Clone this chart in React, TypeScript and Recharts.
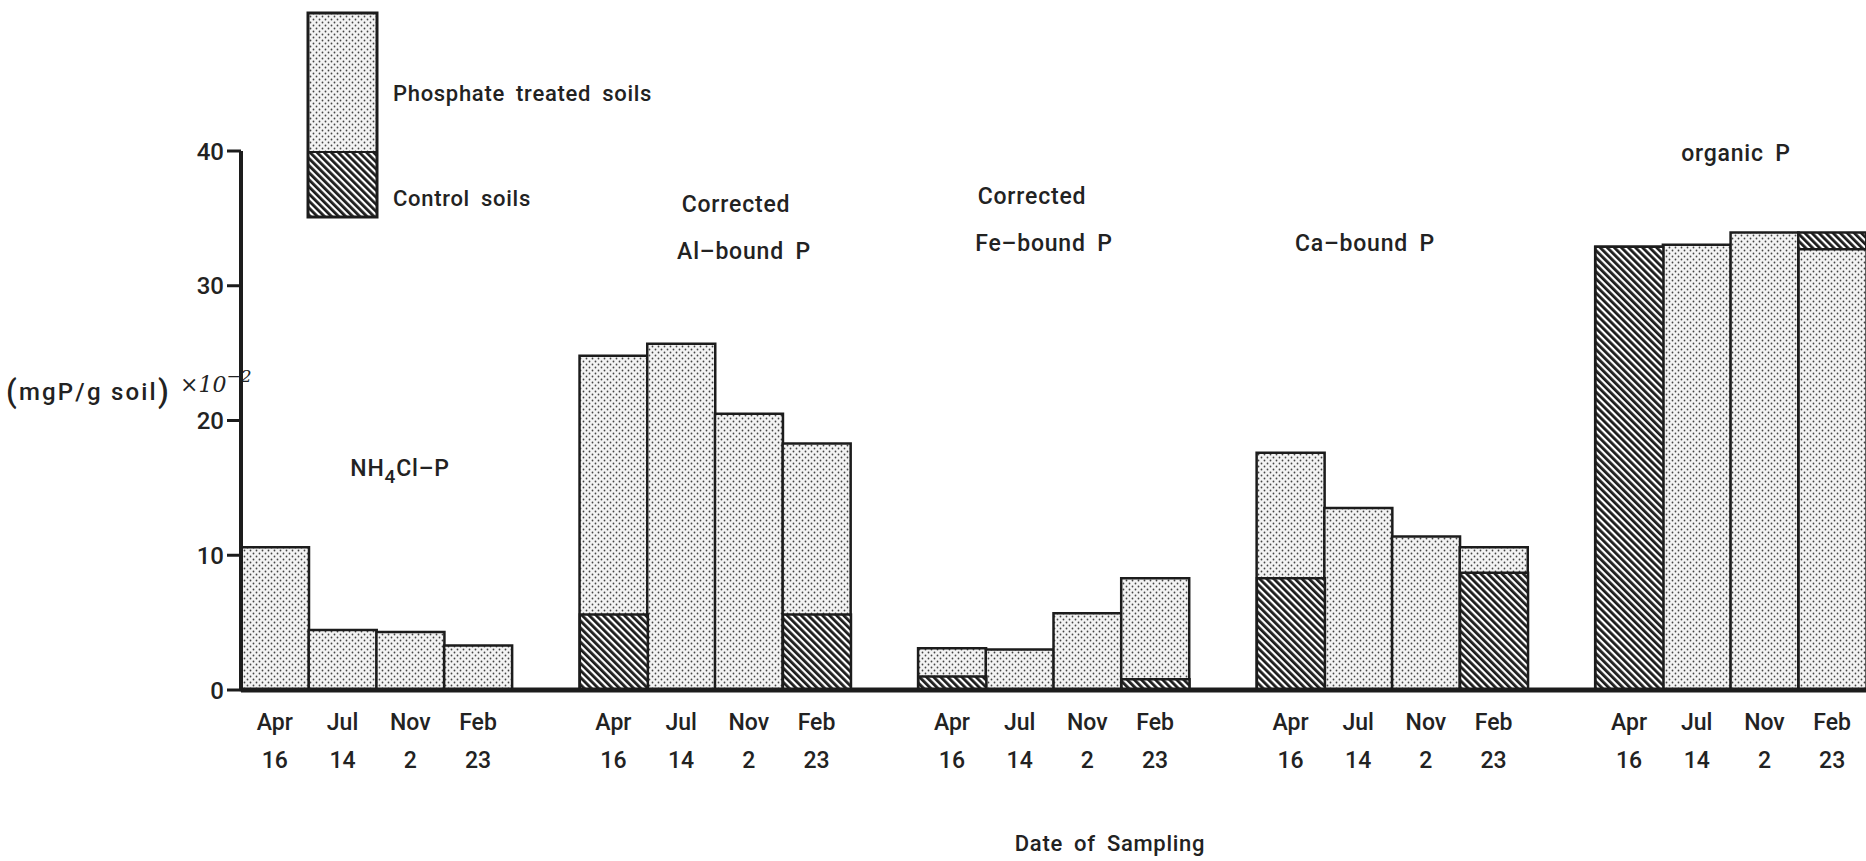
import React from 'react';
import { Bar, BarChart, Cell, XAxis, YAxis } from 'recharts';

// sampling dates (shared by every fraction)
const months = ['Apr', 'Jul', 'Nov', 'Feb'];
const days = ['16', '14', '2', '23'];

// phosphorus fractions, (mgP/g soil) x 10^-2
const fractions = ['NH4Cl-P', 'Al-bound P', 'Fe-bound P', 'Ca-bound P', 'organic P'];
const nh4clTreated = [10.6, 4.45, 4.3, 3.3];
const nh4clControl = [null, null, null, null];
const alTreated = [24.8, 25.7, 20.5, 18.3];
const alControl = [5.6, null, null, 5.6];
const feTreated = [3.1, 3.0, 5.7, 8.3];
const feControl = [1.0, null, null, 0.8];
const caTreated = [17.6, 13.5, 11.4, 10.6];
const caControl = [8.3, null, null, 8.7];
const organicTreated = [32.9, 33.05, 33.95, 32.7];
const organicControl = [32.9, null, null, 33.95];

const yTicks = [0, 10, 20, 30, 40];

const treatedByFraction = [nh4clTreated, alTreated, feTreated, caTreated, organicTreated];
const controlByFraction = [nh4clControl, alControl, feControl, caControl, organicControl];

type Kind = 'treated' | 'control';
type Row = {
  key: string;
  month?: string;
  day?: string;
  back: number | null;
  front: number | null;
  backKind: Kind;
  frontKind: Kind;
};

// taller value goes behind, shorter one is drawn on top of it
const rows: Row[] = [];
fractions.forEach((name, g) => {
  months.forEach((m, i) => {
    const t = treatedByFraction[g][i];
    const c = controlByFraction[g][i];
    let row: Row;
    if (c == null) {
      row = { key: `${name}-${m}`, month: m, day: days[i], back: t, front: null, backKind: 'treated', frontKind: 'control' };
    } else if (c >= t) {
      row = { key: `${name}-${m}`, month: m, day: days[i], back: c, front: t < c ? t : null, backKind: 'control', frontKind: 'treated' };
      if (t === c) row = { ...row, back: t, front: c, backKind: 'treated', frontKind: 'control' };
    } else {
      row = { key: `${name}-${m}`, month: m, day: days[i], back: t, front: c, backKind: 'treated', frontKind: 'control' };
    }
    rows.push(row);
  });
  if (g < fractions.length - 1) {
    rows.push({ key: `gap-${g}`, back: null, front: null, backKind: 'treated', frontKind: 'control' });
  }
});

const INK = '#1c1c1c';
const FONT = 'Roboto, "Liberation Sans", sans-serif';
const fillFor = (k: Kind) => (k === 'control' ? 'url(#hatch)' : 'url(#dots)');

const textStyle = { fontFamily: FONT, fontWeight: 500, fill: '#222' } as const;

function DateTick(props: any) {
  const { x, y, payload } = props;
  const row = rows.find((r) => r.key === payload.value);
  if (!row || !row.month) return null;
  return (
    <g>
      <text x={x} y={y + 40} textAnchor="middle" fontSize={23} {...textStyle}>
        {row.month}
      </text>
      <text x={x} y={y + 78} textAnchor="middle" fontSize={23} {...textStyle}>
        {row.day}
      </text>
    </g>
  );
}

export default function App() {
  return (
    <div style={{ position: 'fixed', left: 0, top: 0, width: 1866, height: 861, background: '#fff' }}>
      <BarChart
        width={1866}
        height={861}
        data={rows}
        margin={{ top: 151, right: 0, bottom: 0, left: 0 }}
        barCategoryGap={0}
        barGap="-100%"
      >
        <defs>
          <pattern id="dots" width="6" height="6" patternUnits="userSpaceOnUse">
            <rect width="6" height="6" fill="#f3f3f3" />
            <circle cx="1.5" cy="1.5" r="0.9" fill="#444" />
            <circle cx="4.5" cy="4.5" r="0.9" fill="#444" />
          </pattern>
          <pattern id="hatch" width="5" height="5" patternUnits="userSpaceOnUse" patternTransform="rotate(-45)">
            <rect width="5" height="5" fill="#fff" />
            <rect width="2.8" height="5" fill={INK} />
          </pattern>
        </defs>
        <XAxis
          dataKey="key"
          height={171}
          axisLine={{ stroke: INK, strokeWidth: 5 }}
          tickLine={false}
          tickSize={0}
          tickMargin={0}
          interval={0}
          tick={<DateTick />}
        />
        <YAxis
          width={241}
          domain={[0, 40]}
          ticks={yTicks}
          interval={0}
          axisLine={{ stroke: INK, strokeWidth: 4 }}
          tickLine={{ stroke: INK, strokeWidth: 3 }}
          tickSize={14}
          tickMargin={3}
          tick={{ ...textStyle, fontSize: 24 }}
        />
        <Bar dataKey="back" stroke={INK} strokeWidth={2.5} isAnimationActive={false}>
          {rows.map((r) => (
            <Cell key={r.key} fill={fillFor(r.backKind)} />
          ))}
        </Bar>
        <Bar dataKey="front" stroke={INK} strokeWidth={2.5} isAnimationActive={false}>
          {rows.map((r) => (
            <Cell key={r.key} fill={fillFor(r.frontKind)} />
          ))}
        </Bar>

        {/* legend */}
        <g>
          <rect x={308} y={13} width={69} height={139} fill="url(#dots)" />
          <rect x={308} y={152} width={69} height={65} fill="url(#hatch)" />
          <line x1={308} y1={152} x2={377} y2={152} stroke={INK} strokeWidth={2} />
          <rect x={308} y={13} width={69} height={204} fill="none" stroke={INK} strokeWidth={3} />
          <text x={393} y={101} fontSize={22} letterSpacing={0.7} wordSpacing={5} {...textStyle}>
            Phosphate treated soils
          </text>
          <text x={393} y={206} fontSize={22} letterSpacing={0.7} wordSpacing={5} {...textStyle}>
            Control soils
          </text>
        </g>

        {/* fraction titles */}
        <g fontSize={23} letterSpacing={0.8} wordSpacing={5} {...textStyle}>
          <text x={400} y={476} textAnchor="middle">
            NH<tspan dy={7} fontSize={19}>4</tspan>
            <tspan dy={-7}>Cl–P</tspan>
          </text>
          <text x={736} y={212} textAnchor="middle">Corrected</text>
          <text x={744} y={259} textAnchor="middle">Al–bound P</text>
          <text x={1032} y={204} textAnchor="middle">Corrected</text>
          <text x={1044} y={251} textAnchor="middle">Fe–bound P</text>
          <text x={1365} y={251} textAnchor="middle">Ca–bound P</text>
          <text x={1736} y={161} textAnchor="middle">organic P</text>
        </g>

        {/* axis titles */}
        <text x={6} y={400} fontSize={24} letterSpacing={2.2} {...textStyle}>
          <tspan fontSize={31} dy={2}>(</tspan>
          <tspan dy={-2}>mgP/g soil</tspan>
          <tspan fontSize={31} dy={2}>)</tspan>
        </text>
        <text x={180} y={392} fontSize={22} fontStyle="italic" fontFamily='"DejaVu Serif", serif' fill="#222">
          ×10<tspan dy={-10} fontSize={17}>−2</tspan>
        </text>
        <text x={1110} y={851} textAnchor="middle" fontSize={22} letterSpacing={0.7} wordSpacing={5} {...textStyle}>
          Date of Sampling
        </text>
      </BarChart>
    </div>
  );
}
